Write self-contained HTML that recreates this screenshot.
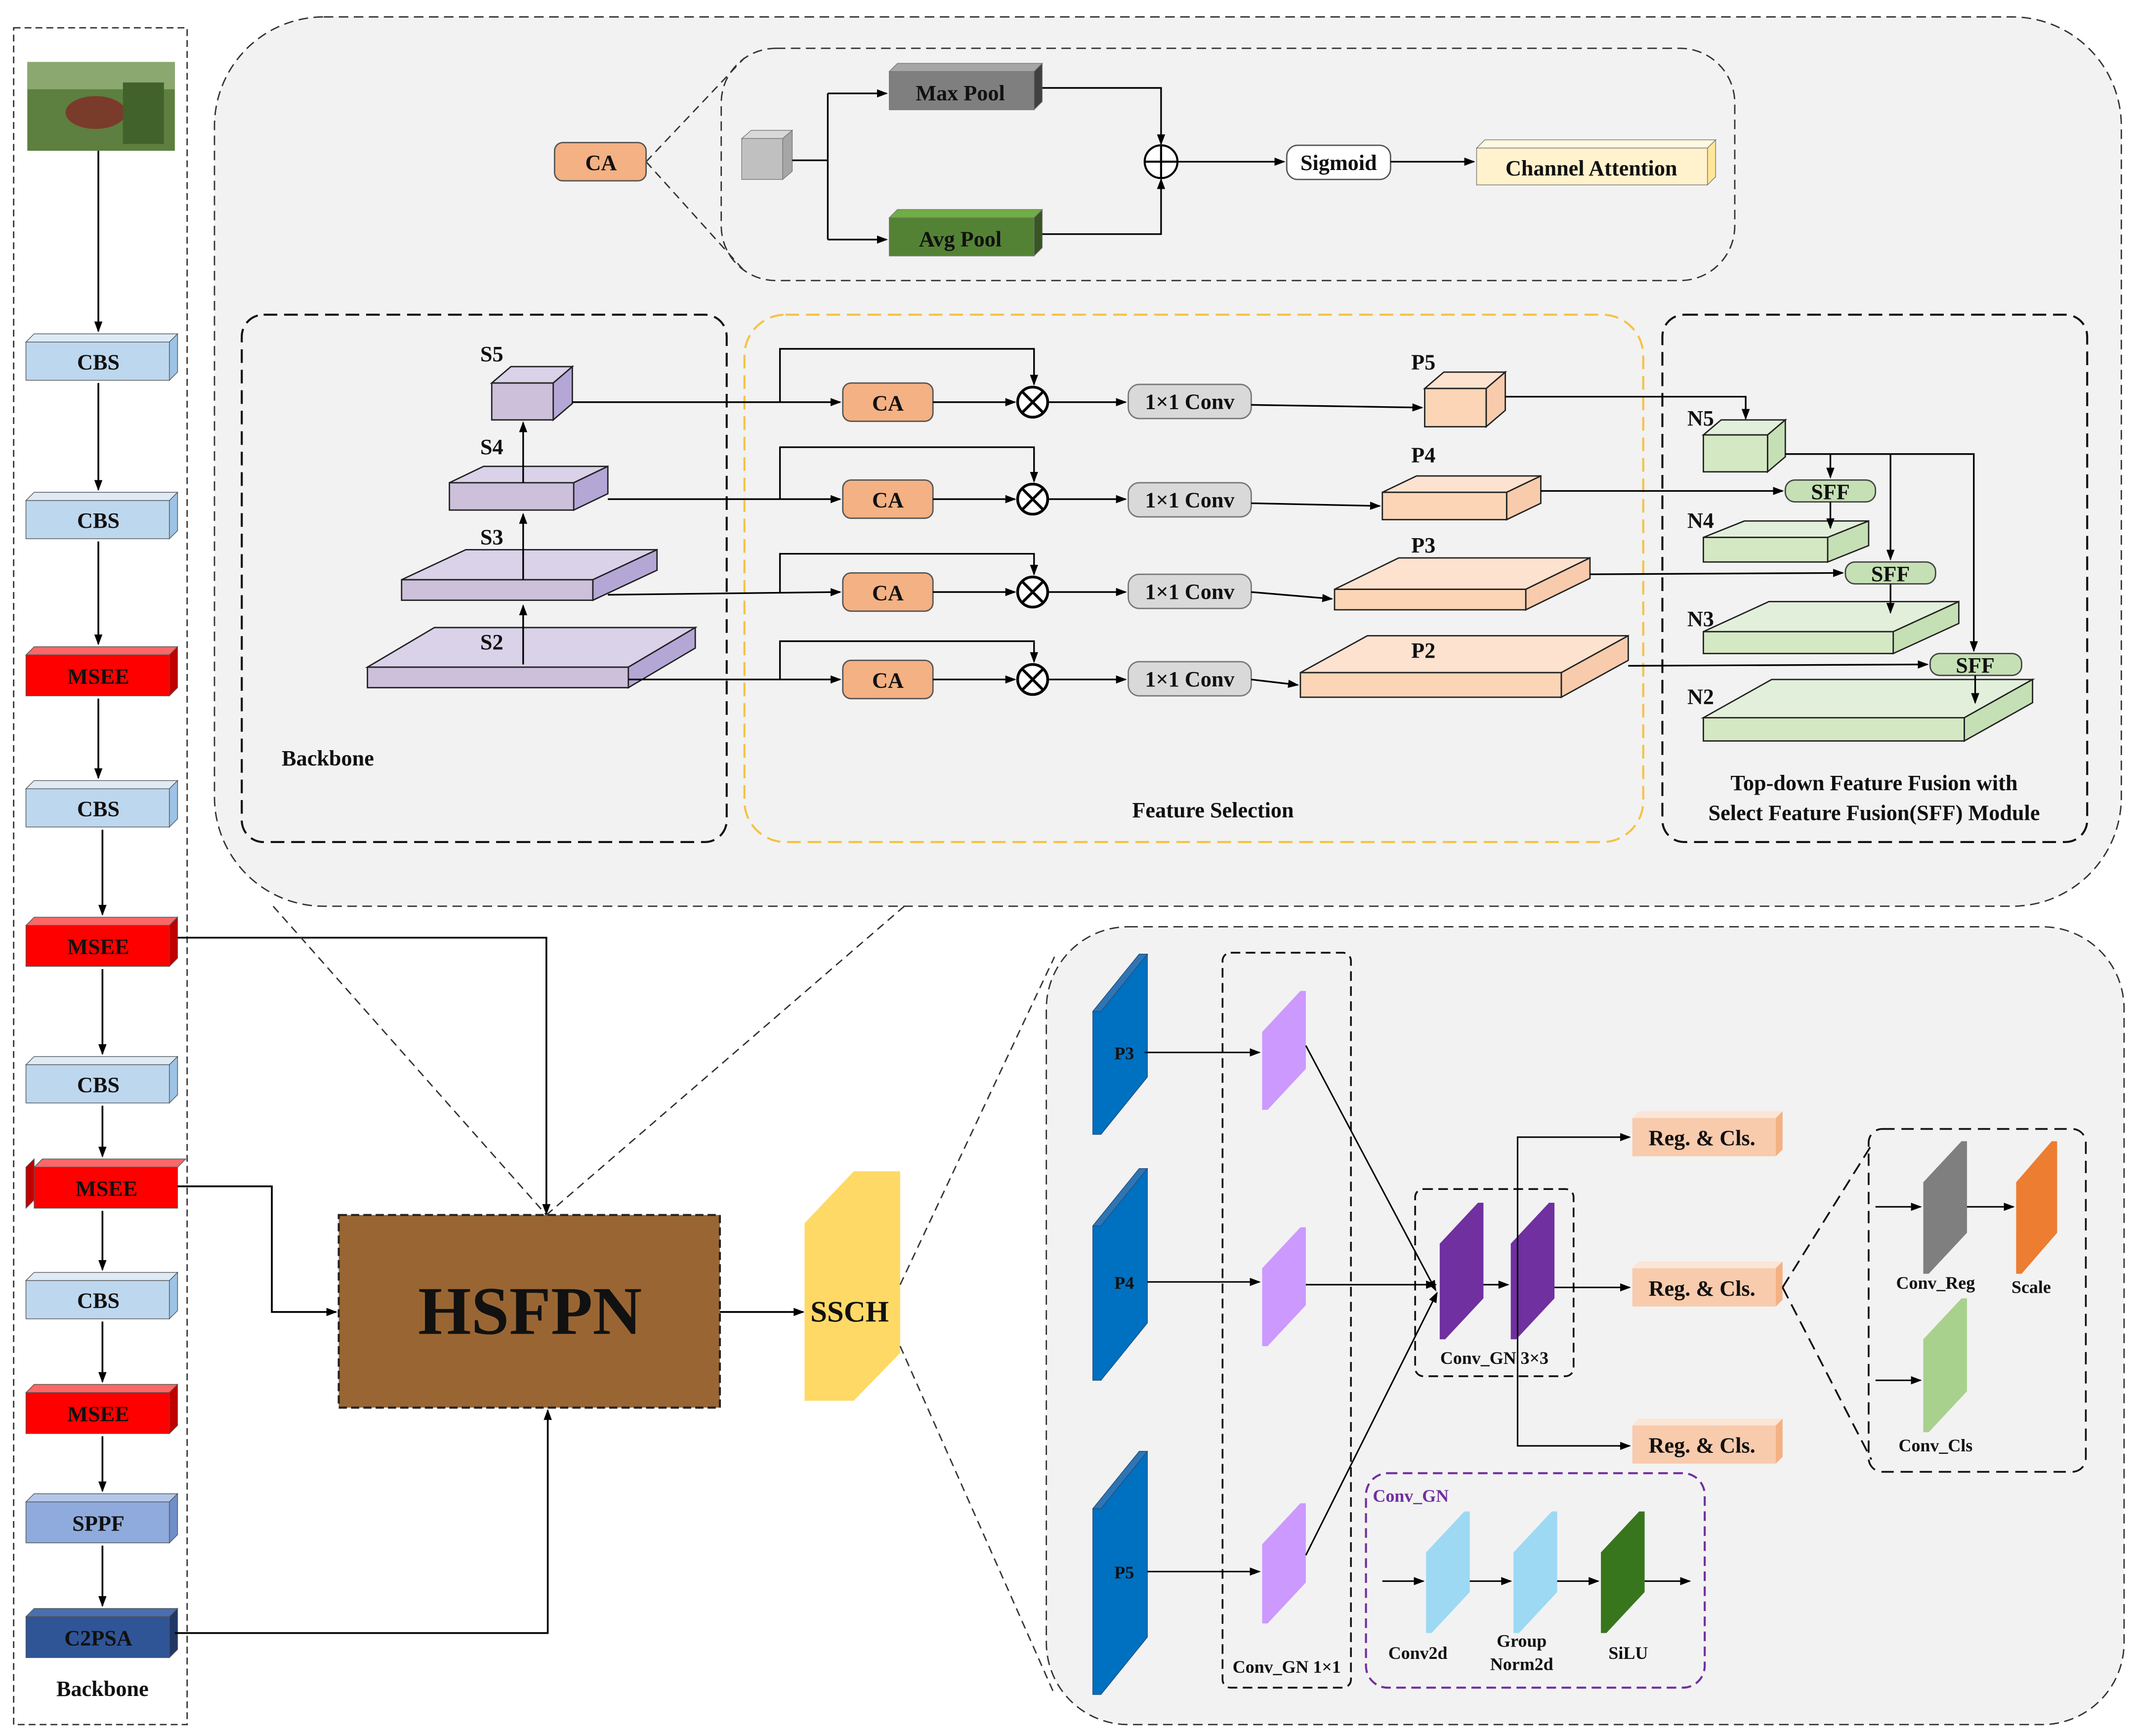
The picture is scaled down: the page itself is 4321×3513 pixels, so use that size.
<!DOCTYPE html>
<html><head><meta charset="utf-8"><style>
html,body{margin:0;padding:0;background:#fff;}
svg{display:block;}
text{font-family:"Liberation Serif",serif;font-weight:bold;fill:#111;}
</style></head><body>
<svg width="4321" height="3513" viewBox="0 0 1563 1270" xmlns="http://www.w3.org/2000/svg">
<defs>
<marker id="a" markerWidth="8" markerHeight="8" refX="7" refY="4" orient="auto" markerUnits="userSpaceOnUse"><path d="M0,1 L8,4 L0,7 z" fill="#000"/></marker>
</defs>
<rect width="1563" height="1270" fill="#fff"/>

<!-- LEFT BACKBONE -->
<rect x="10" y="20" width="127" height="1242" fill="none" stroke="#333" stroke-dasharray="5,3"/>
<rect x="20" y="45" width="108" height="65" fill="#5d7f3f"/>
<rect x="20" y="45" width="108" height="20" fill="#8aa870"/>
<ellipse cx="70" cy="82" rx="22" ry="12" fill="#7a3b2a"/>
<rect x="90" y="60" width="30" height="45" fill="#41622b"/>
<g font-size="16" text-anchor="middle">
<g id="cbs">
</g>
</g>
<g stroke="#555" stroke-width="0.5">
<!-- box helper by hand: front x=19 w=105 h=30 depth 6 -->
<polygon points="19,250 25,244 130,244 124,250" fill="#deebf7"/><polygon points="124,250 130,244 130,272 124,278" fill="#9dc3e6"/><rect x="19" y="250" width="105" height="28" fill="#bdd7ee"/>
<polygon points="19,366 25,360 130,360 124,366" fill="#deebf7"/><polygon points="124,366 130,360 130,388 124,394" fill="#9dc3e6"/><rect x="19" y="366" width="105" height="28" fill="#bdd7ee"/>
<polygon points="19,479 25,473 130,473 124,479" fill="#ff6666"/><polygon points="124,479 130,473 130,503 124,509" fill="#c00000"/><rect x="19" y="479" width="105" height="30" fill="#ff0000"/>
<polygon points="19,577 25,571 130,571 124,577" fill="#deebf7"/><polygon points="124,577 130,571 130,599 124,605" fill="#9dc3e6"/><rect x="19" y="577" width="105" height="28" fill="#bdd7ee"/>
<polygon points="19,677 25,671 130,671 124,677" fill="#ff6666"/><polygon points="124,677 130,671 130,701 124,707" fill="#c00000"/><rect x="19" y="677" width="105" height="30" fill="#ff0000"/>
<polygon points="19,779 25,773 130,773 124,779" fill="#deebf7"/><polygon points="124,779 130,773 130,801 124,807" fill="#9dc3e6"/><rect x="19" y="779" width="105" height="28" fill="#bdd7ee"/>
<polygon points="25,854 31,848 136,848 130,854" fill="#ff6666"/><polygon points="19,854 25,848 25,878 19,884" fill="#c00000"/><rect x="25" y="854" width="105" height="30" fill="#ff0000"/>
<polygon points="19,937 25,931 130,931 124,937" fill="#deebf7"/><polygon points="124,937 130,931 130,959 124,965" fill="#9dc3e6"/><rect x="19" y="937" width="105" height="28" fill="#bdd7ee"/>
<polygon points="19,1019 25,1013 130,1013 124,1019" fill="#ff6666"/><polygon points="124,1019 130,1013 130,1043 124,1049" fill="#c00000"/><rect x="19" y="1019" width="105" height="30" fill="#ff0000"/>
<polygon points="19,1099 25,1093 130,1093 124,1099" fill="#b4c7e7"/><polygon points="124,1099 130,1093 130,1123 124,1129" fill="#6f8fc9"/><rect x="19" y="1099" width="105" height="30" fill="#8faadc"/>
<polygon points="19,1183 25,1177 130,1177 124,1183" fill="#4a6fb0"/><polygon points="124,1183 130,1177 130,1207 124,1213" fill="#203864"/><rect x="19" y="1183" width="105" height="30" fill="#2f5597"/>
</g>
<g font-size="16" text-anchor="middle">
<text x="72" y="270">CBS</text><text x="72" y="386">CBS</text><text x="72" y="500">MSEE</text>
<text x="72" y="597">CBS</text><text x="72" y="698">MSEE</text><text x="72" y="799">CBS</text>
<text x="78" y="875">MSEE</text><text x="72" y="957">CBS</text><text x="72" y="1040">MSEE</text>
<text x="72" y="1120">SPPF</text><text x="72" y="1204" fill="#0a1a3a">C2PSA</text>
<text x="75" y="1241">Backbone</text>
</g>
<g stroke="#000" stroke-width="1.3" fill="none" marker-end="url(#a)">
<line x1="72" y1="110" x2="72" y2="242"/><line x1="72" y1="280" x2="72" y2="358"/>
<line x1="72" y1="396" x2="72" y2="471"/><line x1="72" y1="511" x2="72" y2="569"/>
<line x1="75" y1="607" x2="75" y2="669"/><line x1="75" y1="709" x2="75" y2="771"/>
<line x1="75" y1="809" x2="75" y2="846"/><line x1="75" y1="886" x2="75" y2="929"/>
<line x1="75" y1="967" x2="75" y2="1011"/><line x1="75" y1="1051" x2="75" y2="1091"/>
<line x1="75" y1="1131" x2="75" y2="1175"/>
<polyline points="130,686 400,686 400,888"/>
<polyline points="130,868 199,868 199,960 246,960"/>
<polyline points="128,1195 401,1195 401,1032"/>
<line x1="527" y1="960" x2="588" y2="960"/>
</g>

<!-- HSFPN / SSCH -->
<rect x="248" y="889" width="279" height="141" fill="#996633" stroke="#222" stroke-width="1.5" stroke-dasharray="6,3"/>
<text x="388" y="976" font-size="50" text-anchor="middle">HSFPN</text>
<polygon points="589,895 625,857 659,857 659,990 625,1025 589,1025" fill="#ffd966"/>
<text x="622" y="967" font-size="22" text-anchor="middle">SSCH</text>
<g stroke="#333" stroke-dasharray="6,4" fill="none">
<line x1="200" y1="663" x2="400" y2="889"/><line x1="662" y1="663" x2="400" y2="889"/>
<line x1="659" y1="940" x2="772" y2="700"/><line x1="659" y1="985" x2="772" y2="1240"/>
</g>

<!-- TOP REGION -->
<rect x="157" y="12" width="1396" height="651" rx="80" fill="#f2f2f2" stroke="#333" stroke-dasharray="7,4"/>
<rect x="528" y="35" width="742" height="170" rx="40" fill="#f2f2f2" stroke="#333" stroke-dasharray="7,4"/>
<g stroke="#333" stroke-dasharray="6,4"><line x1="473" y1="118" x2="545" y2="42"/><line x1="473" y1="118" x2="545" y2="198"/></g>
<rect x="406" y="104" width="67" height="28" rx="6" fill="#f4b183" stroke="#555"/>
<text x="440" y="124" font-size="16" text-anchor="middle">CA</text>
<g stroke="#777" stroke-width="0.5">
<polygon points="543,101 550,95 580,95 573,101" fill="#d9d9d9"/><polygon points="573,101 580,95 580,125 573,131" fill="#a6a6a6"/><rect x="543" y="101" width="30" height="30" fill="#c0c0c0"/>
<polygon points="651,52 657,46 763,46 757,52" fill="#a6a6a6"/><polygon points="757,52 763,46 763,74 757,80" fill="#404040"/><rect x="651" y="52" width="106" height="28" fill="#7f7f7f"/>
<polygon points="651,159 657,153 763,153 757,159" fill="#70ad47"/><polygon points="757,159 763,153 763,181 757,187" fill="#375623"/><rect x="651" y="159" width="106" height="28" fill="#548235"/>
<polygon points="1081,108 1087,102 1256,102 1250,108" fill="#fff8e1"/><polygon points="1250,108 1256,102 1256,129 1250,135" fill="#ffe699"/><rect x="1081" y="108" width="169" height="27" fill="#fff2cc"/>
</g>
<text x="703" y="73" font-size="16" text-anchor="middle">Max Pool</text>
<text x="703" y="180" font-size="16" text-anchor="middle">Avg Pool</text>
<rect x="942" y="106" width="76" height="25" rx="8" fill="#fff" stroke="#555"/>
<text x="980" y="124" font-size="16" text-anchor="middle">Sigmoid</text>
<text x="1165" y="128" font-size="16" text-anchor="middle">Channel Attention</text>
<circle cx="850" cy="118" r="12" fill="#fff" stroke="#000" stroke-width="1.5"/>
<path d="M838,118 H862 M850,106 V130" stroke="#000" stroke-width="1.5"/>
<g stroke="#000" stroke-width="1.2" fill="none">
<line x1="580" y1="117" x2="606" y2="117"/><line x1="606" y1="68" x2="606" y2="175"/>
<line x1="606" y1="68" x2="649" y2="68" marker-end="url(#a)"/><line x1="606" y1="175" x2="649" y2="175" marker-end="url(#a)"/>
<polyline points="763,64 850,64 850,105" marker-end="url(#a)"/><polyline points="763,171 850,171 850,131" marker-end="url(#a)"/>
<line x1="862" y1="118" x2="940" y2="118" marker-end="url(#a)"/><line x1="1018" y1="118" x2="1079" y2="118" marker-end="url(#a)"/>
</g>

<!-- inner dashed regions -->
<rect x="177" y="230" width="355" height="386" rx="16" fill="none" stroke="#111" stroke-width="1.5" stroke-dasharray="10,5"/>
<rect x="545" y="230" width="658" height="386" rx="30" fill="none" stroke="#f5c242" stroke-width="1.5" stroke-dasharray="10,5"/>
<rect x="1217" y="230" width="311" height="386" rx="16" fill="none" stroke="#111" stroke-width="1.5" stroke-dasharray="10,5"/>
<g font-size="16" text-anchor="middle">
<text x="240" y="560">Backbone</text><text x="888" y="598">Feature Selection</text>
<text x="1372" y="578">Top-down Feature Fusion with</text><text x="1372" y="600">Select Feature Fusion(SFF) Module</text>
</g>

<!-- S boxes -->
<g stroke="#222" stroke-width="1">
<polygon points="360,280 374,268 419,268 405,280" fill="#d9d2e9"/><polygon points="405,280 419,268 419,295 405,307" fill="#b4a7d6"/><rect x="360" y="280" width="45" height="27" fill="#ccc0da"/>
<polygon points="329,353 354,341 445,341 420,353" fill="#d9d2e9"/><polygon points="420,353 445,341 445,361 420,373" fill="#b4a7d6"/><rect x="329" y="353" width="91" height="20" fill="#ccc0da"/>
<polygon points="294,424 341,402 481,402 434,424" fill="#d9d2e9"/><polygon points="434,424 481,402 481,417 434,439" fill="#b4a7d6"/><rect x="294" y="424" width="140" height="15" fill="#ccc0da"/>
<polygon points="269,488 318,459 509,459 460,488" fill="#d9d2e9"/><polygon points="460,488 509,459 509,474 460,503" fill="#b4a7d6"/><rect x="269" y="488" width="191" height="15" fill="#ccc0da"/>
<!-- P boxes -->
<polygon points="1043,284 1057,272 1102,272 1088,284" fill="#fde2cf"/><polygon points="1088,284 1102,272 1102,300 1088,312" fill="#f8cbad"/><rect x="1043" y="284" width="45" height="28" fill="#fbd5b5"/>
<polygon points="1012,360 1037,348 1128,348 1103,360" fill="#fde2cf"/><polygon points="1103,360 1128,348 1128,368 1103,380" fill="#f8cbad"/><rect x="1012" y="360" width="91" height="20" fill="#fbd5b5"/>
<polygon points="977,431 1024,408 1164,408 1117,431" fill="#fde2cf"/><polygon points="1117,431 1164,408 1164,423 1117,446" fill="#f8cbad"/><rect x="977" y="431" width="140" height="15" fill="#fbd5b5"/>
<polygon points="952,492 1001,465 1192,465 1143,492" fill="#fde2cf"/><polygon points="1143,492 1192,465 1192,483 1143,510" fill="#f8cbad"/><rect x="952" y="492" width="191" height="18" fill="#fbd5b5"/>
<!-- N boxes -->
<polygon points="1247,318 1260,307 1307,307 1294,318" fill="#e2efda"/><polygon points="1294,318 1307,307 1307,334 1294,345" fill="#c5e0b4"/><rect x="1247" y="318" width="47" height="27" fill="#d5e8c4"/>
<polygon points="1247,393 1277,381 1368,381 1338,393" fill="#e2efda"/><polygon points="1338,393 1368,381 1368,399 1338,411" fill="#c5e0b4"/><rect x="1247" y="393" width="91" height="18" fill="#d5e8c4"/>
<polygon points="1247,462 1295,440 1434,440 1386,462" fill="#e2efda"/><polygon points="1386,462 1434,440 1434,456 1386,478" fill="#c5e0b4"/><rect x="1247" y="462" width="139" height="16" fill="#d5e8c4"/>
<polygon points="1247,525 1297,497 1488,497 1438,525" fill="#e2efda"/><polygon points="1438,525 1488,497 1488,514 1438,542" fill="#c5e0b4"/><rect x="1247" y="525" width="191" height="17" fill="#d5e8c4"/>
</g>
<g font-size="16" text-anchor="middle">
<text x="360" y="264">S5</text><text x="360" y="332">S4</text><text x="360" y="398">S3</text><text x="360" y="475">S2</text>
<text x="1042" y="270">P5</text><text x="1042" y="338">P4</text><text x="1042" y="404">P3</text><text x="1042" y="481">P2</text>
<text x="1245" y="311">N5</text><text x="1245" y="386">N4</text><text x="1245" y="458">N3</text><text x="1245" y="515">N2</text>
</g>
<!-- CA, otimes, conv rows -->
<g font-size="16" text-anchor="middle">
<rect x="617" y="280" width="66" height="28" rx="6" fill="#f4b183" stroke="#555"/><text x="650" y="300">CA</text>
<rect x="617" y="351" width="66" height="28" rx="6" fill="#f4b183" stroke="#555"/><text x="650" y="371">CA</text>
<rect x="617" y="419" width="66" height="28" rx="6" fill="#f4b183" stroke="#555"/><text x="650" y="439">CA</text>
<rect x="617" y="483" width="66" height="28" rx="6" fill="#f4b183" stroke="#555"/><text x="650" y="503">CA</text>
<rect x="826" y="281" width="90" height="25" rx="8" fill="#d9d9d9" stroke="#777"/><text x="871" y="299">1×1 Conv</text>
<rect x="826" y="353" width="90" height="25" rx="8" fill="#d9d9d9" stroke="#777"/><text x="871" y="371">1×1 Conv</text>
<rect x="826" y="420" width="90" height="25" rx="8" fill="#d9d9d9" stroke="#777"/><text x="871" y="438">1×1 Conv</text>
<rect x="826" y="484" width="90" height="25" rx="8" fill="#d9d9d9" stroke="#777"/><text x="871" y="502">1×1 Conv</text>
<rect x="1307" y="351" width="66" height="16" rx="7" fill="#c5e0b4" stroke="#444"/><text x="1340" y="365">SFF</text>
<rect x="1351" y="411" width="66" height="16" rx="7" fill="#c5e0b4" stroke="#444"/><text x="1384" y="425">SFF</text>
<rect x="1413" y="478" width="67" height="16" rx="7" fill="#c5e0b4" stroke="#444"/><text x="1446" y="492">SFF</text>
</g>
<g fill="#fff" stroke="#000" stroke-width="2">
<circle cx="756" cy="294" r="11"/><circle cx="756" cy="365" r="11"/><circle cx="756" cy="433" r="11"/><circle cx="756" cy="497" r="11"/>
</g>
<path d="M748,286 L764,302 M764,286 L748,302 M748,357 L764,373 M764,357 L748,373 M748,425 L764,441 M764,425 L748,441 M748,489 L764,505 M764,489 L748,505" stroke="#000" stroke-width="2"/>
<g stroke="#000" stroke-width="1.2" fill="none">
<line x1="419" y1="294" x2="615" y2="294" marker-end="url(#a)"/><polyline points="571,294 571,255 757,255 757,281" marker-end="url(#a)"/>
<line x1="445" y1="365" x2="615" y2="365" marker-end="url(#a)"/><polyline points="571,365 571,327 757,327 757,352" marker-end="url(#a)"/>
<line x1="445" y1="435" x2="615" y2="433" marker-end="url(#a)"/><polyline points="571,434 571,405 757,405 757,420" marker-end="url(#a)"/>
<line x1="460" y1="497" x2="615" y2="497" marker-end="url(#a)"/><polyline points="571,497 571,469 757,469 757,484" marker-end="url(#a)"/>
<line x1="683" y1="294" x2="743" y2="294" marker-end="url(#a)"/><line x1="683" y1="365" x2="743" y2="365" marker-end="url(#a)"/>
<line x1="683" y1="433" x2="743" y2="433" marker-end="url(#a)"/><line x1="683" y1="497" x2="743" y2="497" marker-end="url(#a)"/>
<line x1="768" y1="294" x2="824" y2="294" marker-end="url(#a)"/><line x1="768" y1="365" x2="824" y2="365" marker-end="url(#a)"/>
<line x1="768" y1="433" x2="824" y2="433" marker-end="url(#a)"/><line x1="768" y1="497" x2="824" y2="497" marker-end="url(#a)"/>
<line x1="916" y1="296" x2="1041" y2="298" marker-end="url(#a)"/><line x1="916" y1="368" x2="1010" y2="370" marker-end="url(#a)"/>
<line x1="916" y1="433" x2="975" y2="438" marker-end="url(#a)"/><line x1="916" y1="497" x2="950" y2="501" marker-end="url(#a)"/>
<polyline points="1102,290 1278,290 1278,306" marker-end="url(#a)"/>
<line x1="1128" y1="359" x2="1305" y2="359" marker-end="url(#a)"/>
<line x1="1164" y1="420" x2="1349" y2="419" marker-end="url(#a)"/>
<line x1="1192" y1="487" x2="1411" y2="486" marker-end="url(#a)"/>
<polyline points="1307,332 1445,332 1445,476" marker-end="url(#a)"/>
<line x1="1340" y1="332" x2="1340" y2="349" marker-end="url(#a)"/>
<line x1="1384" y1="332" x2="1384" y2="409" marker-end="url(#a)"/>
<line x1="1340" y1="367" x2="1340" y2="386" marker-end="url(#a)"/>
<line x1="1384" y1="427" x2="1384" y2="448" marker-end="url(#a)"/>
<line x1="1446" y1="494" x2="1446" y2="514" marker-end="url(#a)"/>
<line x1="383" y1="486" x2="383" y2="443" marker-end="url(#a)"/>
<line x1="383" y1="424" x2="383" y2="376" marker-end="url(#a)"/>
<line x1="383" y1="353" x2="383" y2="309" marker-end="url(#a)"/>
</g>

<!-- LOWER RIGHT REGION -->
<rect x="766" y="678" width="789" height="584" rx="60" fill="#f2f2f2" stroke="#333" stroke-dasharray="7,4"/>
<g stroke="#1f4e79" stroke-width="0.5">
<polygon points="800,740 834,698 840,698 840,788 806,830 800,830" fill="#0070c0"/><polygon points="800,740 834,698 840,698 806,740" fill="#2e75b6"/>
<polygon points="800,897 834,855 840,855 840,968 806,1010 800,1010" fill="#0070c0"/><polygon points="800,897 834,855 840,855 806,897" fill="#2e75b6"/>
<polygon points="800,1104 834,1062 840,1062 840,1198 806,1240 800,1240" fill="#0070c0"/><polygon points="800,1104 834,1062 840,1062 806,1104" fill="#2e75b6"/>
</g>
<g font-size="13" text-anchor="middle"><text x="823" y="775">P3</text><text x="823" y="943">P4</text><text x="823" y="1155">P5</text></g>
<rect x="895" y="697" width="94" height="538" rx="6" fill="none" stroke="#111" stroke-width="1.3" stroke-dasharray="7,4"/>
<text x="942" y="1224" font-size="13" text-anchor="middle">Conv_GN 1×1</text>
<g fill="#cc99ff">
<polygon points="924,755 952,725 956,725 956,782 928,812 924,812"/>
<polygon points="924,928 952,898 956,898 956,955 928,985 924,985"/>
<polygon points="924,1130 952,1100 956,1100 956,1158 928,1188 924,1188"/>
</g>
<rect x="1036" y="870" width="116" height="137" rx="6" fill="none" stroke="#111" stroke-width="1.3" stroke-dasharray="7,4"/>
<g fill="#7030a0">
<polygon points="1054,910 1082,880 1086,880 1086,950 1058,980 1054,980"/>
<polygon points="1106,910 1134,880 1138,880 1138,950 1110,980 1106,980"/>
</g>
<text x="1094" y="998" font-size="13" text-anchor="middle">Conv_GN 3×3</text>
<g stroke="#000" stroke-width="1.1" fill="none">
<line x1="838" y1="770" x2="922" y2="770" marker-end="url(#a)"/>
<line x1="840" y1="938" x2="922" y2="938" marker-end="url(#a)"/>
<line x1="840" y1="1150" x2="922" y2="1150" marker-end="url(#a)"/>
<line x1="956" y1="765" x2="1051" y2="944" marker-end="url(#a)"/>
<line x1="956" y1="940" x2="1051" y2="940" marker-end="url(#a)"/>
<line x1="956" y1="1138" x2="1052" y2="946" marker-end="url(#a)"/>
<line x1="1086" y1="940" x2="1104" y2="940" marker-end="url(#a)"/>
<line x1="1138" y1="942" x2="1193" y2="942" marker-end="url(#a)"/>
<polyline points="1193,832 1111,832 1111,1058 1193,1058"/>
<line x1="1185" y1="832" x2="1193" y2="832" marker-end="url(#a)"/>
<line x1="1185" y1="1058" x2="1193" y2="1058" marker-end="url(#a)"/>
</g>
<g stroke="none">
<rect x="1195" y="818" width="105" height="28" fill="#f8cbad"/><polygon points="1300,818 1305,813 1305,841 1300,846" fill="#f4b183"/><polygon points="1195,818 1200,813 1305,813 1300,818" fill="#fbe5d6"/>
<rect x="1195" y="928" width="105" height="28" fill="#f8cbad"/><polygon points="1300,928 1305,923 1305,951 1300,956" fill="#f4b183"/><polygon points="1195,928 1200,923 1305,923 1300,928" fill="#fbe5d6"/>
<rect x="1195" y="1043" width="105" height="28" fill="#f8cbad"/><polygon points="1300,1043 1305,1038 1305,1066 1300,1071" fill="#f4b183"/><polygon points="1195,1043 1200,1038 1305,1038 1300,1043" fill="#fbe5d6"/>
</g>
<g font-size="16" text-anchor="middle"><text x="1246" y="838">Reg. &amp; Cls.</text><text x="1246" y="948">Reg. &amp; Cls.</text><text x="1246" y="1063">Reg. &amp; Cls.</text></g>
<g stroke="#111" stroke-width="1.3" stroke-dasharray="9,5" fill="none">
<line x1="1305" y1="942" x2="1370" y2="838"/><line x1="1305" y1="942" x2="1370" y2="1068"/>
<rect x="1368" y="826" width="159" height="251" rx="10"/>
</g>
<polygon points="1408,865 1436,835 1440,835 1440,902 1412,932 1408,932" fill="#7f7f7f"/>
<polygon points="1476,865 1502,835 1506,835 1506,902 1480,932 1476,932" fill="#ed7d31"/>
<polygon points="1408,980 1436,950 1440,950 1440,1018 1412,1048 1408,1048" fill="#a9d18e"/>
<g stroke="#000" stroke-width="1.1">
<line x1="1373" y1="883" x2="1406" y2="883" marker-end="url(#a)"/>
<line x1="1440" y1="883" x2="1474" y2="883" marker-end="url(#a)"/>
<line x1="1373" y1="1010" x2="1406" y2="1010" marker-end="url(#a)"/>
</g>
<g font-size="13" text-anchor="middle"><text x="1417" y="943">Conv_Reg</text><text x="1487" y="946">Scale</text><text x="1417" y="1062">Conv_Cls</text></g>
<rect x="1000" y="1078" width="248" height="157" rx="16" fill="none" stroke="#7030a0" stroke-width="1.5" stroke-dasharray="7,4"/>
<text x="1005" y="1099" font-size="13" fill="#7030a0" style="fill:#7030a0">Conv_GN</text>
<polygon points="1044,1136 1072,1106 1076,1106 1076,1165 1048,1195 1044,1195" fill="#9dd9f3"/>
<polygon points="1108,1136 1136,1106 1140,1106 1140,1165 1112,1195 1108,1195" fill="#9dd9f3"/>
<polygon points="1172,1136 1200,1106 1204,1106 1204,1165 1176,1195 1172,1195" fill="#38761d"/>
<g stroke="#000" stroke-width="1.1">
<line x1="1012" y1="1157" x2="1042" y2="1157" marker-end="url(#a)"/>
<line x1="1076" y1="1157" x2="1106" y2="1157" marker-end="url(#a)"/>
<line x1="1140" y1="1157" x2="1170" y2="1157" marker-end="url(#a)"/>
<line x1="1204" y1="1157" x2="1237" y2="1157" marker-end="url(#a)"/>
</g>
<g font-size="13" text-anchor="middle"><text x="1038" y="1214">Conv2d</text><text x="1114" y="1205">Group</text><text x="1114" y="1222">Norm2d</text><text x="1192" y="1214">SiLU</text></g>
</svg>
</body></html>
